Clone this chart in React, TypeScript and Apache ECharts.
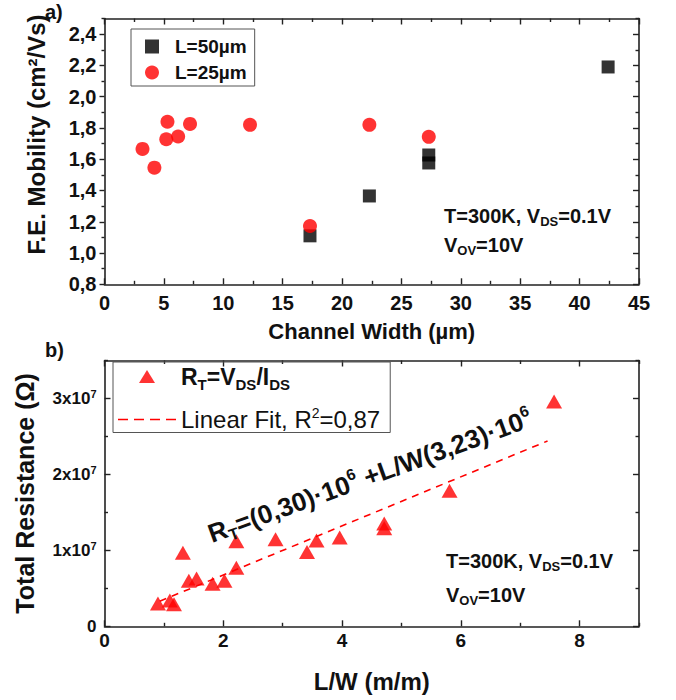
import React, { useEffect, useRef } from "react";
import * as echarts from "echarts";

// ---------- Panel a) : mobility vs channel width ----------
const channelWidthL50 = [17.3, 22.3, 27.3, 27.3, 42.4];
const mobilityL50 = [1.11, 1.365, 1.576, 1.627, 2.19];
const channelWidthL25 = [3.2, 4.2, 5.2, 5.3, 6.2, 7.2, 12.25, 17.3, 22.3, 27.3];
const mobilityL25 = [1.666, 1.546, 1.728, 1.84, 1.745, 1.826, 1.82, 1.173, 1.82, 1.743];

// ---------- Panel b) : total resistance vs L/W ----------
const lwRatio = [0.9, 1.1, 1.17, 1.32, 1.42, 1.55, 1.82, 2.02, 2.22, 2.22, 2.88, 3.41, 3.57, 3.96, 4.71, 4.71, 5.81, 7.57];
const totalResistance = [3.0e6, 3.4e6, 2.9e6, 9.7e6, 6.0e6, 6.3e6, 5.6e6, 6.0e6, 7.7e6, 11.2e6, 11.45e6, 9.8e6, 11.3e6, 11.7e6, 13.55e6, 12.9e6, 17.85e6, 29.6e6];
const fitLW = [0.93, 7.46];
const fitResistance = [3.3e6, 24.4e6];

// ---------- ticks and tick labels ----------
const widthTicks = [0, 5, 10, 15, 20, 25, 30, 35, 40, 45];
const widthMinorTicks = [2.5, 7.5, 12.5, 17.5, 22.5, 27.5, 32.5, 37.5, 42.5];
const widthTickLabels = ["0", "5", "10", "15", "20", "25", "30", "35", "40", "45"];
const mobilityTicks = [0.8, 1.0, 1.2, 1.4, 1.6, 1.8, 2.0, 2.2, 2.4];
const mobilityMinorTicks = [0.9, 1.1, 1.3, 1.5, 1.7, 1.9, 2.1, 2.3, 2.5];
const mobilityTickLabels = ["0,8", "1,0", "1,2", "1,4", "1,6", "1,8", "2,0", "2,2", "2,4"];
const lwTicks = [0, 2, 4, 6, 8];
const lwMinorTicks = [1, 3, 5, 7, 9];
const lwTickLabels = ["0", "2", "4", "6", "8"];
const resTicks = [0, 1e7, 2e7, 3e7];
const resMinorTicks = [0.5e7, 1.5e7, 2.5e7, 3.5e7];
const resTickLabels = ["{m|0}", "{m|1x10}{p|7}", "{m|2x10}{p|7}", "{m|3x10}{p|7}"];

const FONT = "'Liberation Sans', Arial, Helvetica, sans-serif";
const INK = "#111";
const RED = "#ff0000";
const FRAME = "#222";

const ICON_SQUARE = "path://M0,0h10v10h-10z";
const ICON_TRIANGLE = "path://M8,0L16,13L0,13z";
const ICON_DASH = "path://M0,0h10v1.6h-10z M16,0h10v1.6h-10z M32,0h10v1.6h-10z M48,0h10v1.6h-10z";

const lookup = (ticks: number[], labels: string[]) => (v: number) => {
  const scale = Math.max(1, Math.abs(ticks[ticks.length - 1]));
  for (let i = 0; i < ticks.length; i++) {
    if (Math.abs(v - ticks[i]) < scale * 1e-9) return labels[i];
  }
  return "";
};

// an axis of the frame: line + ticks at given values
function tickAxis(
  gridIndex: number,
  position: string,
  min: number,
  max: number,
  interval: number,
  values: number[],
  length: number,
  inside: boolean,
  showLine: boolean
) {
  return {
    type: "value",
    gridIndex,
    position,
    min,
    max,
    interval,
    axisLine: { show: showLine, onZero: false, lineStyle: { color: FRAME, width: 1.6 } },
    axisTick: { show: true, inside, length, customValues: values, lineStyle: { color: FRAME, width: 1.4 } },
    minorTick: { show: false },
    axisLabel: { show: false },
    splitLine: { show: false },
    minorSplitLine: { show: false },
  };
}

export default function App() {
  const ref = useRef<HTMLDivElement>(null);

  useEffect(() => {
    if (!ref.current) return;
    const chart = echarts.init(ref.current, null, { renderer: "svg" });

    const annRich = {
      m: { fontSize: 20, fontWeight: "bold", fontFamily: FONT, fill: INK, lineHeight: 24 },
      s: { fontSize: 13, fontWeight: "bold", fontFamily: FONT, fill: INK, lineHeight: 8, verticalAlign: "bottom" },
    };

    const option: any = {
      animation: false,
      backgroundColor: "#fff",
      textStyle: { fontFamily: FONT },
      grid: [
        { left: 104.5, top: 18.5, width: 534.5, height: 265.8, containLabel: false },
        { left: 104.5, top: 360.5, width: 534.5, height: 265.8, containLabel: false },
      ],
      xAxis: [
        // panel a) bottom (labelled)
        {
          ...tickAxis(0, "bottom", 0, 45, 5, widthTicks, 6, true, true),
          axisLabel: {
            show: true,
            margin: 9,
            formatter: lookup(widthTicks, widthTickLabels),
            fontSize: 20,
            fontWeight: "bold",
            fontFamily: FONT,
            color: INK,
          },
          name: "Channel Width (µm)",
          nameLocation: "middle",
          nameGap: 36,
          nameTextStyle: { fontSize: 22, fontWeight: "bold", fontFamily: FONT, color: INK },
        },
        tickAxis(0, "bottom", 0, 45, 5, widthMinorTicks, 3.5, true, false),
        tickAxis(0, "top", 0, 45, 5, widthTicks, 6, true, true),
        tickAxis(0, "top", 0, 45, 5, widthMinorTicks, 3.5, true, false),
        // panel b) bottom (labelled)
        {
          ...tickAxis(1, "bottom", 0, 9, 1, lwTicks, 6, true, true),
          axisLabel: {
            show: true,
            margin: 5,
            showMaxLabel: false,
            formatter: lookup(lwTicks, lwTickLabels),
            fontSize: 19,
            fontWeight: "bold",
            fontFamily: FONT,
            color: INK,
          },
          name: "L/W (m/m)",
          nameLocation: "middle",
          nameGap: 43,
          nameTextStyle: { fontSize: 24, fontWeight: "bold", fontFamily: FONT, color: INK },
        },
        tickAxis(1, "bottom", 0, 9, 1, lwMinorTicks, 3.5, true, false),
        tickAxis(1, "top", 0, 9, 1, lwTicks, 6, true, true),
        tickAxis(1, "top", 0, 9, 1, lwMinorTicks, 3.5, true, false),
      ],
      yAxis: [
        // panel a) left (labelled)
        {
          ...tickAxis(0, "left", 0.8, 2.5, 0.1, mobilityTicks, 5, false, true),
          axisLabel: {
            show: true,
            margin: 8,
            customValues: mobilityTicks,
            formatter: lookup(mobilityTicks, mobilityTickLabels),
            fontSize: 20,
            fontWeight: "bold",
            fontFamily: FONT,
            color: INK,
          },
          name: "F.E. Mobility (cm²/Vs)",
          nameLocation: "middle",
          nameRotate: 90,
          nameGap: 56,
          nameTextStyle: { fontSize: 24, fontWeight: "bold", fontFamily: FONT, color: INK, padding: [0, 0, 0, 34] },
        },
        tickAxis(0, "left", 0.8, 2.5, 0.1, mobilityMinorTicks, 3, false, false),
        tickAxis(0, "right", 0.8, 2.5, 0.1, mobilityTicks, 6, true, true),
        tickAxis(0, "right", 0.8, 2.5, 0.1, mobilityMinorTicks, 3.5, true, false),
        // panel b) left (labelled)
        {
          ...tickAxis(1, "left", 0, 3.5e7, 0.5e7, resTicks, 6, true, true),
          axisLabel: {
            show: true,
            margin: 8,
            customValues: resTicks,
            formatter: lookup(resTicks, resTickLabels),
            rich: {
              m: { fontSize: 17, fontWeight: "bold", fontFamily: FONT, color: INK, lineHeight: 20 },
              p: { fontSize: 11, fontWeight: "bold", fontFamily: FONT, color: INK, lineHeight: 8, verticalAlign: "top" },
            },
          },
          name: "Total Resistance (Ω)",
          nameLocation: "middle",
          nameRotate: 90,
          nameGap: 67,
          nameTextStyle: { fontSize: 25, fontWeight: "bold", fontFamily: FONT, color: INK },
        },
        tickAxis(1, "left", 0, 3.5e7, 0.5e7, resMinorTicks, 3.5, true, false),
        tickAxis(1, "right", 0, 3.5e7, 0.5e7, resTicks, 6, true, true),
        tickAxis(1, "right", 0, 3.5e7, 0.5e7, resMinorTicks, 3.5, true, false),
      ],
      legend: [
        {
          data: [
            { name: "L=50µm", icon: ICON_SQUARE },
            { name: "L=25µm", icon: "circle" },
          ],
          orient: "vertical",
          left: 131,
          top: 29,
          itemWidth: 14,
          itemHeight: 14,
          itemGap: 7,
          symbolKeepAspect: true,
          padding: [8, 8, 4, 14],
          borderColor: "#555",
          borderWidth: 1,
          textStyle: { fontSize: 19, fontWeight: "bold", fontFamily: FONT, color: INK, padding: [0, 0, 0, 11] },
        },
        {
          data: [
            { name: "R_T=V_DS/I_DS", icon: ICON_TRIANGLE },
            { name: "Linear Fit, R²=0,87", icon: ICON_DASH, itemStyle: { color: RED, borderWidth: 0 } },
          ],
          orient: "vertical",
          left: 113,
          top: 362,
          itemWidth: 58,
          itemHeight: 13,
          itemGap: 14,
          symbolKeepAspect: true,
          padding: [3, 10, 1, 5],
          borderColor: "#555",
          borderWidth: 1,
          formatter: (name: string) =>
            name.startsWith("R_T")
              ? "{b|R}{bs|T}{b|=V}{bs|DS}{b|/I}{bs|DS}"
              : "{n|Linear Fit, R}{np|2}{n|=0,87}",
          textStyle: {
            fontFamily: FONT,
            color: INK,
            rich: {
              b: { fontSize: 23, fontWeight: "bold", fontFamily: FONT, color: INK, lineHeight: 30 },
              bs: { fontSize: 15, fontWeight: "bold", fontFamily: FONT, color: INK, lineHeight: 12, verticalAlign: "bottom" },
              n: { fontSize: 24, fontFamily: FONT, color: INK, lineHeight: 28 },
              np: { fontSize: 14, fontFamily: FONT, color: INK, lineHeight: 12, verticalAlign: "top" },
            },
          },
        },
      ],
      series: [
        {
          name: "L=50µm",
          type: "scatter",
          xAxisIndex: 0,
          yAxisIndex: 0,
          symbol: "rect",
          symbolSize: 13,
          itemStyle: { color: "#000" },
          data: channelWidthL50.map((x, i) => [x, mobilityL50[i]]),
        },
        {
          name: "L=25µm",
          type: "scatter",
          xAxisIndex: 0,
          yAxisIndex: 0,
          symbol: "circle",
          symbolSize: 14,
          itemStyle: { color: RED },
          data: channelWidthL25.map((x, i) => [x, mobilityL25[i]]),
        },
        {
          name: "Linear Fit, R²=0,87",
          type: "line",
          xAxisIndex: 4,
          yAxisIndex: 4,
          showSymbol: false,
          symbol: "none",
          lineStyle: { color: RED, width: 1.6, type: [7, 6] },
          itemStyle: { color: RED },
          data: fitLW.map((x, i) => [x, fitResistance[i]]),
          z: 1,
        },
        {
          name: "R_T=V_DS/I_DS",
          type: "scatter",
          xAxisIndex: 4,
          yAxisIndex: 4,
          symbol: "triangle",
          symbolSize: [16, 14],
          itemStyle: { color: RED },
          data: lwRatio.map((x, i) => [x, totalResistance[i]]),
          z: 3,
        },
      ],
      graphic: [
        { type: "text", x: 45, y: 2, style: { text: "a)", font: `bold 20px ${FONT}`, fill: INK } },
        { type: "text", x: 45, y: 340, style: { text: "b)", font: `bold 20px ${FONT}`, fill: INK } },
        {
          type: "text",
          x: 444,
          y: 204,
          style: { text: "{m|T=300K, V}{s|DS}{m|=0.1V}", rich: annRich, fill: INK },
        },
        {
          type: "text",
          x: 444,
          y: 233,
          style: { text: "{m|V}{s|OV}{m|=10V}", rich: annRich, fill: INK },
        },
        {
          type: "text",
          x: 446,
          y: 549,
          style: { text: "{m|T=300K, V}{s|DS}{m|=0.1V}", rich: annRich, fill: INK },
        },
        {
          type: "text",
          x: 446,
          y: 583,
          style: { text: "{m|V}{s|OV}{m|=10V}", rich: annRich, fill: INK },
        },
        {
          type: "text",
          x: 370,
          y: 476,
          rotation: (20 * Math.PI) / 180,
          style: {
            text: "{m|R}{s|T}{m|=(0,30)·10}{p|6}{m| +L/W(3,23)·10}{p|6}",
            align: "center",
            verticalAlign: "middle",
            fill: INK,
            rich: {
              m: { fontSize: 26, fontWeight: "bold", fontFamily: FONT, fill: INK, lineHeight: 32 },
              s: { fontSize: 16, fontWeight: "bold", fontFamily: FONT, fill: INK, lineHeight: 10, verticalAlign: "bottom" },
              p: { fontSize: 16, fontWeight: "bold", fontFamily: FONT, fill: INK, lineHeight: 12, verticalAlign: "top" },
            },
          },
          z: 10,
        },
      ],
    };

    chart.setOption(option);
    return () => chart.dispose();
  }, []);

  return (
    <div
      ref={ref}
      style={{ position: "absolute", left: 0, top: 0, width: 676, height: 700, background: "#fff" }}
    />
  );
}
